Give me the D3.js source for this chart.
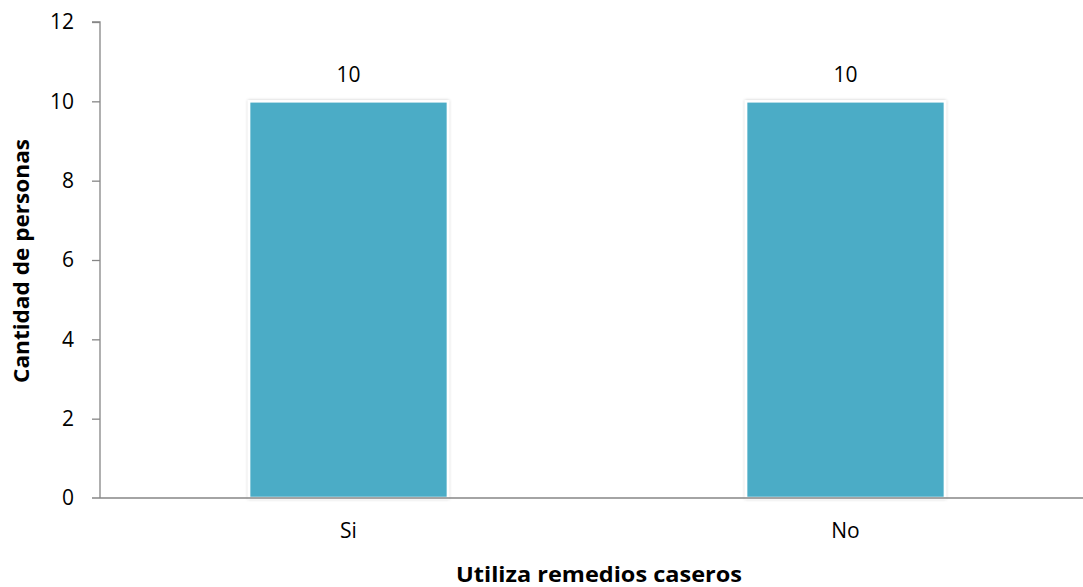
<!DOCTYPE html>
<html><head><meta charset="utf-8">
<script src="https://cdn.jsdelivr.net/npm/d3@7"></script>
<style>body{margin:0;background:#fff}svg{display:block}</style>
</head><body>
<svg id="c" width="1083" height="587"></svg>
<script>
const categories = ["Si", "No"];
const values = [10, 10];
const yTicks = [0, 2, 4, 6, 8, 10, 12];
const xTitle = "Utiliza remedios caseros";
const yTitle = "Cantidad de personas";

(function(){
const svg = d3.select("#c");
const font = "'Open Sans', 'Noto Sans', sans-serif";
const mL = 100, mR = 1094, mT = 22, mB = 498;
const x = d3.scaleBand().domain(categories).range([mL, mR]).paddingInner(0.6).paddingOuter(0.3);
const y = d3.scaleLinear().domain([0, 12]).range([mB, mT]);

const defs = svg.append("defs");
const f = defs.append("filter").attr("id","sh").attr("x","-10%").attr("y","-10%").attr("width","120%").attr("height","120%");
f.append("feGaussianBlur").attr("in","SourceAlpha").attr("stdDeviation",1.8).attr("result","b");
f.append("feFlood").attr("flood-color","#000").attr("flood-opacity",0.22);
f.append("feComposite").attr("in2","b").attr("operator","in").attr("result","s");
const m = f.append("feMerge"); m.append("feMergeNode").attr("in","s"); m.append("feMergeNode").attr("in","SourceGraphic");

// bars
svg.append("g").selectAll("rect").data(values).join("rect")
  .attr("x",(d,i)=>x(categories[i]))
  .attr("width",x.bandwidth())
  .attr("y",d=>y(d))
  .attr("height",d=>y(0)-y(d))
  .attr("fill","#4BACC6").attr("stroke","#fff").attr("stroke-width",2.5)
  .attr("filter","url(#sh)");

// value labels
svg.append("g").selectAll("text").data(values).join("text")
  .attr("x",(d,i)=>x(categories[i])+x.bandwidth()/2)
  .attr("y",d=>y(d)-19)
  .attr("text-anchor","middle").attr("font-family",font).attr("font-size",21).attr("fill","#000")
  .text(d=>d);

// y axis
const ya = svg.append("g").attr("transform",`translate(${mL},0)`)
  .call(d3.axisLeft(y).tickValues(yTicks).tickSize(8).tickPadding(18));
ya.select(".domain").attr("stroke","#868686").attr("stroke-width",1.3).attr("d",`M-8,${mT}H0V${mB}`);
ya.selectAll(".tick line").attr("stroke","#868686").attr("stroke-width",1.3);
ya.selectAll(".tick text").attr("font-family",font).attr("font-size",21).attr("fill","#000");
ya.selectAll(".tick").filter(d=>d===0).select("line").remove();

// x axis
const xa = svg.append("g").attr("transform",`translate(0,${mB})`)
  .call(d3.axisBottom(x).tickSize(0).tickPadding(25));
xa.select(".domain").attr("stroke","#868686").attr("stroke-width",1.3).attr("d",`M${mL-8},0H${mR}`);
xa.selectAll(".tick text").attr("font-family",font).attr("font-size",21).attr("fill","#000");

// titles
svg.append("text").attr("x",599).attr("y",582).attr("text-anchor","middle")
  .attr("font-family",font).attr("font-size",21).attr("font-weight","bold")
  .attr("textLength",286).attr("lengthAdjust","spacingAndGlyphs").text(xTitle);
svg.append("text").attr("transform",`translate(29,261) rotate(-90)`).attr("text-anchor","middle")
  .attr("font-family",font).attr("font-size",21).attr("font-weight","bold")
  .attr("textLength",244).attr("lengthAdjust","spacingAndGlyphs").text(yTitle);
})();
</script>
</body></html>
